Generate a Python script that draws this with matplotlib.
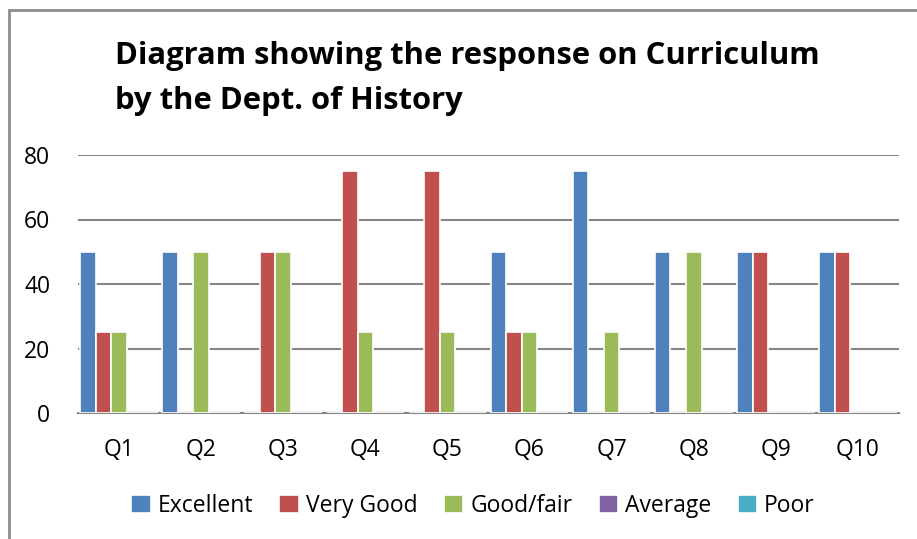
import numpy as np
import matplotlib
matplotlib.use("Agg")
import matplotlib.pyplot as plt
from matplotlib.patches import Rectangle

plt.rcParams['font.family'] = ['Open Sans', 'DejaVu Sans']

questions = ['Q1', 'Q2', 'Q3', 'Q4', 'Q5', 'Q6', 'Q7', 'Q8', 'Q9', 'Q10']
series_names = ['Excellent', 'Very Good', 'Good/fair', 'Average', 'Poor']
excellent = [50, 50, 0, 0, 0, 50, 75, 50, 50, 50]
very_good = [25, 0, 50, 75, 75, 25, 0, 0, 50, 50]
good_fair = [25, 50, 50, 25, 25, 25, 25, 50, 0, 0]
average = [0, 0, 0, 0, 0, 0, 0, 0, 0, 0]
poor = [0, 0, 0, 0, 0, 0, 0, 0, 0, 0]
colors = ['#4F81BD', '#C0504D', '#9BBB59', '#8064A2', '#4BACC6']

W, H = 917, 539
fig = plt.figure(figsize=(W / 100, H / 100), dpi=100)
ax = fig.add_axes([78 / W, 1 - 413 / H, (899 - 78) / W, (413 - 155) / H])

x = np.arange(len(questions))
w = 0.189
for i, (vals, name) in enumerate(zip([excellent, very_good, good_fair, average, poor], series_names)):
    ax.bar(x + (i - 2) * w, vals, width=w, color=colors[i], edgecolor='white',
           linewidth=1.2, label=name, zorder=3)

ax.set_xlim(-0.5, len(questions) - 0.5)
ax.set_ylim(0, 80)
ax.set_yticks([0, 20, 40, 60, 80])
ax.set_xticks(x)
ax.set_xticklabels(questions)
ax.tick_params(axis='both', length=0, labelsize=16.5)
ax.tick_params(axis='x', pad=18)
ax.tick_params(axis='y', pad=20)
ax.grid(axis='y', color='#868686', linewidth=1.5, zorder=0)
for s in ['top', 'right', 'left']:
    ax.spines[s].set_visible(False)
ax.spines['bottom'].set_color('#868686')
ax.spines['bottom'].set_linewidth(1.5)

fig.text(115 / W, 1 - 64 / H, 'Diagram showing the response on Curriculum',
         fontsize=22.3, fontweight='bold', ha='left', va='baseline')
fig.text(115 / W, 1 - 109 / H, 'by the Dept. of History',
         fontsize=22.3, fontweight='bold', ha='left', va='baseline')

fig.legend(loc='center', bbox_to_anchor=(473 / W, 1 - 506 / H), ncol=5, frameon=False,
           fontsize=16.5, handlelength=0.85, handleheight=0.85, handletextpad=0.3,
           columnspacing=1.15)

# chart border
fig.patches.append(Rectangle((8.5 / W, -0.1), 1.2, 1 - 10 / H + 0.1, transform=fig.transFigure,
                             fill=False, edgecolor='#8c8c8c', linewidth=2))

fig.savefig('out.png', dpi=100)
